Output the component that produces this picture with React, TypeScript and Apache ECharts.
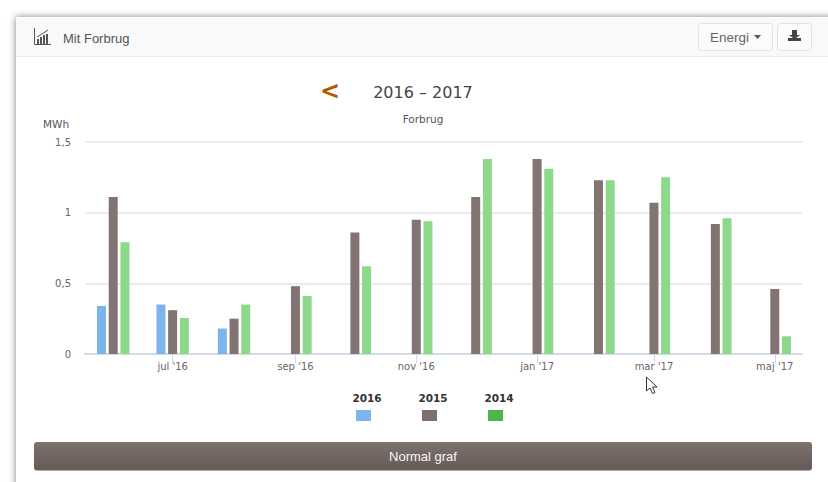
import React, { useEffect, useRef } from "react";
import * as echarts from "echarts";

const months = ["2016-06-01","2016-07-01","2016-08-01","2016-09-01","2016-10-01","2016-11-01","2016-12-01","2017-01-01","2017-02-01","2017-03-01","2017-04-01","2017-05-01"];
const values2016 = [0.34,0.35,0.18,null,null,null,null,null,null,null,null,null];
const values2015 = [1.11,0.31,0.25,0.48,0.86,0.95,1.11,1.38,1.23,1.07,0.92,0.46];
const values2014 = [0.79,0.255,0.35,0.41,0.62,0.94,1.38,1.31,1.23,1.25,0.96,0.125];
const seriesNames = ["2016","2015","2014"];
const tickDates = ["2016-07-01","2016-09-01","2016-11-01","2017-01-01","2017-03-01","2017-05-01"];
const monthNames = ["jan","feb","mar","apr","maj","jun","jul","aug","sep","okt","nov","dec"];
const barColors = ["#7cb5ec","#827472","#8cd98c"];
const swatchColors = ["#7cb5ec","#7c6f6c","#4cb54c"];

const ts = (s: string) => Date.parse(s + "T00:00:00Z");
const SANS = "'Liberation Sans', Arial, sans-serif";
const LABEL = "'DejaVu Sans', Verdana, sans-serif";
const toData = (vals: (number | null)[]) => months.map((m, i) => [ts(m), vals[i]]);

export default function App() {
  const ref = useRef<HTMLDivElement>(null);
  useEffect(() => {
    document.body.style.margin = "0";
    document.body.style.background = "#fff";
    const chart = echarts.init(ref.current!, undefined, { renderer: "svg" });
    const tickVals = tickDates.map(ts);
    const legendX = [356, 422, 488];
    const iconBars = [[37,39,5],[40,37,8],[43,35,10],[46,34,11]];
    chart.setOption({
      animation: false,
      backgroundColor: "#fff",
      grid: { left: 85, right: 26, top: 142, bottom: 128, containLabel: false },
      xAxis: {
        type: "value",
        scale: true,
        min: Date.UTC(2016, 4, 17, 18),
        max: Date.UTC(2017, 4, 14, 18),
        splitLine: { show: false },
        axisLine: { show: true, onZero: false, lineStyle: { color: "#d3dbe8", width: 2 } },
        axisTick: { show: true, length: 9, customValues: tickVals, lineStyle: { color: "#cfd8e6", width: 1 } },
        axisLabel: {
          customValues: tickVals,
          margin: 7,
          fontFamily: LABEL,
          fontSize: 10,
          color: "#666",
          hideOverlap: false,
          showMinLabel: true,
          showMaxLabel: true,
          formatter: (v: number) => {
            const d = new Date(v);
            return `${monthNames[d.getUTCMonth()]} '${String(d.getUTCFullYear()).slice(2)}`;
          },
        },
      },
      yAxis: {
        type: "value",
        min: 0,
        max: 1.5,
        interval: 0.5,
        axisLine: { show: false },
        axisTick: { show: false },
        splitLine: { lineStyle: { color: "#e6e6e6", width: 1.5 } },
        axisLabel: {
          margin: 14,
          fontFamily: LABEL,
          fontSize: 10,
          color: "#666",
          formatter: (v: number) => String(v).replace(".", ","),
        },
      },
      series: [values2016, values2015, values2014].map((vals, i) => ({
        name: seriesNames[i],
        type: "bar",
        data: toData(vals),
        barWidth: 9,
        barGap: "30%",
        itemStyle: { color: barColors[i] },
      })),
      graphic: [
        // panel and header
        { type: "rect", z: -10, silent: true, shape: { x: 16, y: 17, width: 900, height: 600 }, style: { fill: "#fff", shadowBlur: 7, shadowColor: "rgba(0,0,0,0.5)" } },
        { type: "rect", z: -9, silent: true, shape: { x: 16, y: 18, width: 900, height: 38 }, style: { fill: "#f9f9f9" } },
        { type: "rect", z: -9, silent: true, shape: { x: 16, y: 56, width: 900, height: 1 }, style: { fill: "#ececec" } },
        // header icon
        { type: "polyline", silent: true, shape: { points: [[34.5,28],[34.5,44.5],[51,44.5]] }, style: { fill: "none", stroke: "#555", lineWidth: 1 } },
        ...iconBars.map((b) => ({ type: "rect", silent: true, shape: { x: b[0], y: b[1], width: 2, height: b[2] }, style: { fill: "#555" } })),
        { type: "polyline", silent: true, shape: { points: [[37,37],[42,34],[48,30]] }, style: { fill: "none", stroke: "#555", lineWidth: 1 } },
        { type: "text", style: { text: "Mit Forbrug", x: 63, y: 38, fontFamily: SANS, fontSize: 13, fill: "#555", verticalAlign: "middle" } },
        // buttons
        { type: "rect", silent: true, shape: { x: 698.5, y: 23.5, width: 74, height: 27, r: 3 }, style: { fill: "#fbfbfb", stroke: "#e2e2e2" } },
        { type: "text", style: { text: "Energi", x: 710, y: 37, fontFamily: SANS, fontSize: 13.5, fill: "#666", verticalAlign: "middle" } },
        { type: "polygon", silent: true, shape: { points: [[754,35],[761,35],[757.5,39]] }, style: { fill: "#555" } },
        { type: "rect", silent: true, shape: { x: 777.5, y: 23.5, width: 34, height: 27, r: 3 }, style: { fill: "#fbfbfb", stroke: "#e2e2e2" } },
        { type: "polygon", silent: true, shape: { points: [[792,30],[797,30],[797,35],[800,35],[794.5,39],[789,35],[792,35]] }, style: { fill: "#444" } },
        { type: "rect", silent: true, shape: { x: 788, y: 38, width: 13, height: 3 }, style: { fill: "#444" } },
        // heading
        { type: "text", style: { text: "<", x: 330, y: 91, fontFamily: LABEL, fontSize: 24, fontWeight: "bold", fill: "#b05a00", align: "center", verticalAlign: "middle" } },
        { type: "text", style: { text: "2016 – 2017", x: 423, y: 92, fontFamily: LABEL, fontSize: 16, fill: "#444", align: "center", verticalAlign: "middle" } },
        { type: "text", style: { text: "Forbrug", x: 423, y: 119, fontFamily: LABEL, fontSize: 10.5, fill: "#555", align: "center", verticalAlign: "middle" } },
        { type: "text", style: { text: "MWh", x: 56, y: 124, fontFamily: LABEL, fontSize: 10.5, fill: "#555", align: "center", verticalAlign: "middle" } },
        // legend
        ...seriesNames.flatMap((n, i) => [
          { type: "text", style: { text: n, x: legendX[i] + 11, y: 398, fontFamily: LABEL, fontSize: 10.5, fontWeight: "bold", fill: "#333", align: "center", verticalAlign: "middle" } },
          { type: "rect", silent: true, shape: { x: legendX[i], y: 410, width: 15, height: 11 }, style: { fill: swatchColors[i] } },
        ]),
        // action bar
        {
          type: "rect", silent: true,
          shape: { x: 34, y: 442, width: 778, height: 28.5, r: 3 },
          style: { fill: new echarts.graphic.LinearGradient(0, 0, 0, 1, [{ offset: 0, color: "#7e716e" }, { offset: 1, color: "#655a57" }]) },
        },
        { type: "text", style: { text: "Normal graf", x: 423, y: 456, fontFamily: SANS, fontSize: 13, fill: "#f4f4f4", align: "center", verticalAlign: "middle" } },
        // mouse cursor
        { type: "polygon", silent: true, z: 100, shape: { points: [[646.5,377],[646.5,391],[650,388],[652.5,393.5],[655,392.5],[652.5,387],[657,387]] }, style: { fill: "#fff", stroke: "#333", lineWidth: 1 } },
      ],
    });
    return () => chart.dispose();
  }, []);
  return <div ref={ref} style={{ width: 828, height: 482 }} />;
}
